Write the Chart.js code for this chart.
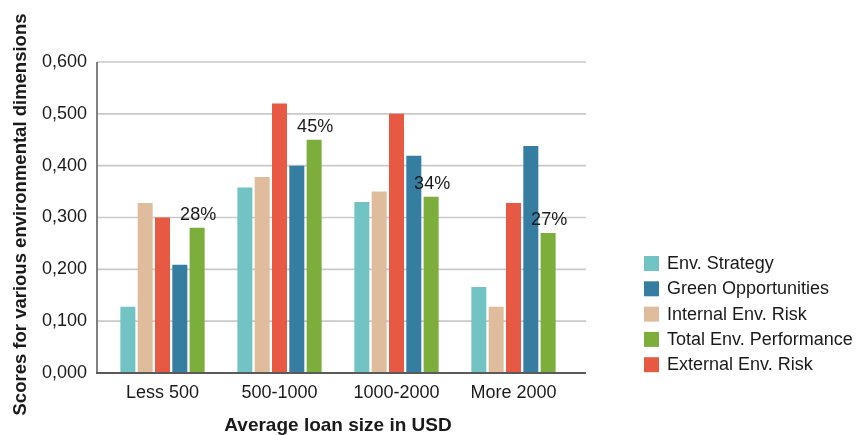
<!DOCTYPE html>
<html>
<head>
<meta charset="utf-8">
<script src="https://cdn.jsdelivr.net/npm/chart.js@4/dist/chart.umd.min.js"></script>
<style>
  html, body { margin: 0; padding: 0; background: #fff; }
  #wrap { width: 866px; height: 435px; }
</style>
</head>
<body>
<div id="wrap"><canvas id="loanChart"></canvas></div>
<script>
const categories = ['Less 500', '500-1000', '1000-2000', 'More 2000'];
const envStrategy = [0.128, 0.358, 0.330, 0.166];
const internalRisk = [0.328, 0.378, 0.350, 0.128];
const externalRisk = [0.300, 0.520, 0.500, 0.328];
const greenOpportunities = [0.209, 0.400, 0.419, 0.438];
const totalPerformance = [0.28, 0.45, 0.34, 0.27];
const yTicks = [0, 0.1, 0.2, 0.3, 0.4, 0.5, 0.6];
const legendOrder = ['Env. Strategy', 'Green Opportunities', 'Internal Env. Risk', 'Total Env. Performance', 'External Env. Risk'];
const yTitle = 'Scores for various environmental dimensions';

const FONT = "'Liberation Sans', Arial, sans-serif";
Chart.defaults.font.family = FONT;
Chart.defaults.font.size = 18;
Chart.defaults.color = '#1a1a1a';

// grid lines + axis lines, a bit wider than the plot area
const frame = {
    id: 'frame',
    beforeDatasetsDraw(chart) {
        const { ctx, chartArea: a, scales: { y } } = chart;
        ctx.save();
        ctx.strokeStyle = '#c9c9c9';
        ctx.lineWidth = 1.6;
        y.ticks.forEach(t => {
            if (t.value === 0) return;
            const py = y.getPixelForValue(t.value);
            ctx.beginPath();
            ctx.moveTo(a.left - 7, py);
            ctx.lineTo(a.right + 14, py);
            ctx.stroke();
        });
        ctx.restore();
    },
    afterDatasetsDraw(chart) {
        const { ctx, chartArea: a, scales: { y } } = chart;
        const y0 = y.getPixelForValue(0);
        ctx.save();
        ctx.lineWidth = 2;
        ctx.strokeStyle = '#808080';
        ctx.beginPath();
        ctx.moveTo(a.left - 7, a.top);
        ctx.lineTo(a.left - 7, y0);
        ctx.stroke();
        ctx.strokeStyle = '#5a5a5a';
        ctx.beginPath();
        ctx.moveTo(a.left - 8, y0);
        ctx.lineTo(a.right + 14, y0);
        ctx.stroke();
        ctx.restore();
    }
};

// percentage labels on top of the flagged dataset
const valueLabels = {
    id: 'valueLabels',
    afterDatasetsDraw(chart) {
        const { ctx } = chart;
        ctx.save();
        ctx.font = '18px ' + FONT;
        ctx.fillStyle = '#1a1a1a';
        ctx.textAlign = 'center';
        ctx.textBaseline = 'bottom';
        chart.data.datasets.forEach((ds, i) => {
            if (!ds.showValue) return;
            chart.getDatasetMeta(i).data.forEach((bar, j) => {
                ctx.fillText(Math.round(ds.data[j] * 100) + '%', bar.x + 1, bar.y - 4);
            });
        });
        ctx.restore();
    }
};

// vertical axis title, close to the plot centre
const sideTitle = {
    id: 'sideTitle',
    afterDraw(chart) {
        const { ctx, chartArea: a } = chart;
        ctx.save();
        ctx.translate(20.5, (a.top + a.bottom) / 2 - 3);
        ctx.rotate(-Math.PI / 2);
        ctx.font = 'bold 18.5px ' + FONT;
        ctx.fillStyle = '#1a1a1a';
        ctx.textAlign = 'center';
        ctx.textBaseline = 'middle';
        ctx.fillText(yTitle, 0, 0);
        ctx.restore();
    }
};

// legend on the right, in its own order
const sideLegend = {
    id: 'sideLegend',
    afterDraw(chart) {
        const { ctx, chartArea: a } = chart;
        const x = a.right + 72;
        let top = 256;
        ctx.save();
        ctx.font = '18px ' + FONT;
        ctx.textBaseline = 'middle';
        ctx.textAlign = 'left';
        legendOrder.forEach(name => {
            const ds = chart.data.datasets.find(d => d.label === name);
            ctx.fillStyle = ds.backgroundColor;
            ctx.fillRect(x, top, 15, 15);
            ctx.fillStyle = '#1a1a1a';
            ctx.fillText(name, x + 23, top + 8);
            top += 25.3;
        });
        ctx.restore();
    }
};

new Chart(document.getElementById('loanChart'), {
    type: 'bar',
    data: {
        labels: categories,
        datasets: [
            { label: 'Env. Strategy', data: envStrategy, backgroundColor: '#72c3c3' },
            { label: 'Internal Env. Risk', data: internalRisk, backgroundColor: '#dfbc9c' },
            { label: 'External Env. Risk', data: externalRisk, backgroundColor: '#e85944' },
            { label: 'Green Opportunities', data: greenOpportunities, backgroundColor: '#357ea1' },
            { label: 'Total Env. Performance', data: totalPerformance, backgroundColor: '#7dad3b', showValue: true }
        ]
    },
    plugins: [frame, valueLabels, sideTitle, sideLegend],
    options: {
        responsive: true,
        maintainAspectRatio: false,
        animation: false,
        barPercentage: 0.867,
        categoryPercentage: 0.74,
        layout: { padding: { top: 62, right: 294, left: 0, bottom: 0 } },
        plugins: {
            legend: { display: false },
            tooltip: { enabled: false }
        },
        scales: {
            x: {
                grid: { display: false, drawTicks: false },
                border: { display: false },
                ticks: { padding: 9, color: '#1a1a1a', maxRotation: 0 },
                title: {
                    display: true,
                    text: 'Average loan size in USD',
                    font: { size: 19, weight: 'bold', lineHeight: 1 },
                    padding: { top: 0, bottom: 0 },
                    color: '#1a1a1a'
                },
                afterFit: s => { s.height = 62; }
            },
            y: {
                min: 0,
                max: 0.6,
                grid: { display: false, drawTicks: false },
                border: { display: false },
                afterBuildTicks: s => { s.ticks = yTicks.map(v => ({ value: v })); },
                ticks: {
                    padding: 17,
                    color: '#1a1a1a',
                    callback: v => v.toFixed(3).replace('.', ',')
                },
                afterFit: s => { s.width = 104; }
            }
        }
    }
});
</script>
</body>
</html>
